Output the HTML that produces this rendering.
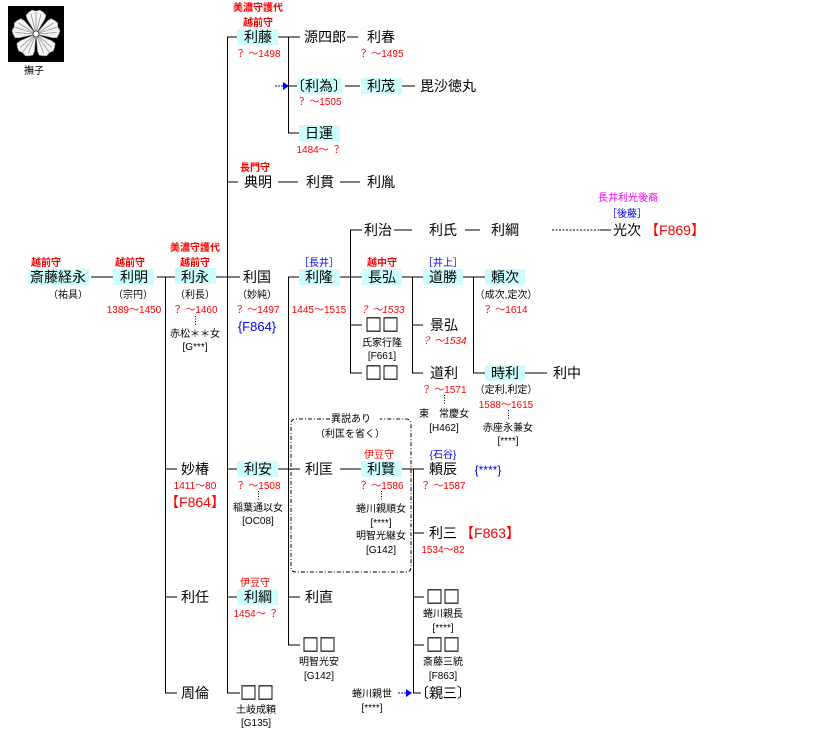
<!DOCTYPE html>
<html><head><meta charset="utf-8"><style>
html,body{margin:0;padding:0;background:#fff}
svg{display:block;font-family:"Liberation Sans","Noto Sans CJK JP",sans-serif}
.n{font-size:14px;fill:#000;text-anchor:middle}
.q{font-size:17px;fill:#000;text-anchor:middle;font-family:"Noto Sans CJK JP",sans-serif;stroke:#000;stroke-width:0.4}
.s{font-size:10px;fill:#000;text-anchor:middle}
.r{font-size:10px;fill:#f00;text-anchor:middle}
.rb{font-size:10px;fill:#f00;text-anchor:middle;font-weight:bold}
.b{font-size:10px;fill:#00f;text-anchor:middle}
.bb{font-size:14px;fill:#00f;text-anchor:middle}
.rr{font-size:14px;fill:#f00;text-anchor:middle}
.m{font-size:10px;fill:#f0f;text-anchor:middle}
</style></head><body>
<svg width="831" height="736" viewBox="0 0 831 736" xmlns="http://www.w3.org/2000/svg">
<rect x="8" y="6" width="56" height="56" fill="#000"/>
<g transform="translate(36,34)" fill="#f4f4f4" stroke="#777" stroke-width="0.6">
<g id="p"><path d="M0,0 L-9,-15 L-10,-19 L-7,-22 L-4,-24 L0,-23 L4,-24 L7,-22 L10,-19 L9,-15 Z"/><line x1="0" y1="0" x2="0" y2="-22"/><line x1="0" y1="0" x2="-5" y2="-20"/><line x1="0" y1="0" x2="5" y2="-20"/></g>
<use href="#p" transform="rotate(72)"/><use href="#p" transform="rotate(144)"/><use href="#p" transform="rotate(216)"/><use href="#p" transform="rotate(288)"/>
<circle r="3" fill="#fff" stroke="#000"/>
</g>
<text x="34" y="74" class="s">撫子</text>

<g stroke="#000" stroke-width="1" fill="none">
<line x1="157" y1="277" x2="175" y2="277"/>
<line x1="165.5" y1="277" x2="165.5" y2="693"/>
<line x1="165" y1="469" x2="177" y2="469"/>
<line x1="165" y1="597" x2="177" y2="597"/>
<line x1="165" y1="693" x2="177" y2="693"/>
<line x1="91" y1="277" x2="113" y2="277"/>
<line x1="216" y1="277" x2="240" y2="277"/>
<line x1="227.5" y1="37" x2="227.5" y2="693"/>
<line x1="227" y1="37" x2="237" y2="37"/>
<line x1="227" y1="182" x2="238" y2="182"/>
<line x1="227" y1="469" x2="237" y2="469"/>
<line x1="227" y1="597" x2="237" y2="597"/>
<line x1="227" y1="693" x2="240" y2="693"/>
<line x1="278" y1="37" x2="300" y2="37"/>
<line x1="288.5" y1="37" x2="288.5" y2="133"/>
<line x1="288" y1="86" x2="297" y2="86"/>
<line x1="288" y1="133" x2="299" y2="133"/>
<line x1="347" y1="37" x2="358" y2="37"/>
<line x1="345" y1="86" x2="360" y2="86"/>
<line x1="402" y1="86" x2="415" y2="86"/>
<line x1="278" y1="182" x2="298" y2="182"/>
<line x1="340" y1="182" x2="360" y2="182"/>
<line x1="288.5" y1="277" x2="288.5" y2="645"/>
<line x1="288" y1="277" x2="299" y2="277"/>
<line x1="278" y1="469" x2="300" y2="469"/>
<line x1="288" y1="597" x2="300" y2="597"/>
<line x1="288" y1="645" x2="300" y2="645"/>
<line x1="340" y1="277" x2="362" y2="277"/>
<line x1="350.5" y1="230" x2="350.5" y2="373"/>
<line x1="350" y1="230" x2="362" y2="230"/>
<line x1="350" y1="325" x2="362" y2="325"/>
<line x1="350" y1="373" x2="362" y2="373"/>
<line x1="394" y1="230" x2="412" y2="230"/>
<line x1="465" y1="230" x2="480" y2="230"/>
<line x1="552" y1="230" x2="600" y2="230" stroke-dasharray="2,1.5"/>
<line x1="600" y1="230" x2="611" y2="230"/>
<line x1="402" y1="277" x2="423" y2="277"/>
<line x1="412.5" y1="277" x2="412.5" y2="373"/>
<line x1="412" y1="325" x2="423" y2="325"/>
<line x1="412" y1="373" x2="423" y2="373"/>
<line x1="463" y1="277" x2="485" y2="277"/>
<line x1="473.5" y1="277" x2="473.5" y2="373"/>
<line x1="473" y1="373" x2="485" y2="373"/>
<line x1="525" y1="373" x2="547" y2="373"/>
<line x1="340" y1="469" x2="361" y2="469"/>
<line x1="402" y1="469" x2="424" y2="469"/>
<line x1="413.5" y1="469" x2="413.5" y2="693"/>
<line x1="413" y1="533" x2="424" y2="533"/>
<line x1="413" y1="597" x2="424" y2="597"/>
<line x1="413" y1="645" x2="424" y2="645"/>
<line x1="413" y1="693" x2="421" y2="693"/>
<path d="M330,419 H296 Q291,419 291,424 V567 Q291,572 296,572 H406 Q411,572 411,567 V424 Q411,419 406,419 H380" stroke-dasharray="4,2,1,2"/>
<line x1="195.5" y1="316" x2="195.5" y2="326" stroke-dasharray="1,1.5"/>
<line x1="258.5" y1="491" x2="258.5" y2="500" stroke-dasharray="1,1.5"/>
<line x1="381.5" y1="491" x2="381.5" y2="500" stroke-dasharray="1,1.5"/>
<line x1="444.5" y1="395" x2="444.5" y2="405" stroke-dasharray="1,1.5"/>
<line x1="508.5" y1="410" x2="508.5" y2="419" stroke-dasharray="1,1.5"/>
</g>
<line x1="275" y1="86" x2="283" y2="86" stroke="#00f" stroke-dasharray="2,1"/>
<polygon points="283,82 289,86 283,90" fill="#00f"/>
<line x1="398" y1="693" x2="406" y2="693" stroke="#00f" stroke-dasharray="2,1"/>
<polygon points="406,689 412,693 406,697" fill="#00f"/>

<g fill="#ccfeff">
<rect x="28" y="269" width="61" height="16"/>
<rect x="113" y="269" width="41" height="16"/>
<rect x="175" y="268" width="41" height="16"/>
<rect x="237" y="29" width="41" height="16"/>
<rect x="297" y="78" width="45" height="16"/>
<rect x="361" y="78" width="41" height="16"/>
<rect x="299" y="125" width="41" height="16"/>
<rect x="299" y="269" width="41" height="16"/>
<rect x="362" y="269" width="40" height="16"/>
<rect x="423" y="269" width="40" height="16"/>
<rect x="485" y="269" width="40" height="16"/>
<rect x="485" y="365" width="40" height="16"/>
<rect x="237" y="461" width="41" height="16"/>
<rect x="361" y="461" width="41" height="16"/>
<rect x="237" y="589" width="41" height="16"/>
</g>

<text x="258" y="11" class="rb">美濃守護代</text>
<text x="258" y="26" class="rb">越前守</text>
<text x="258" y="42" class="n">利藤</text>
<text x="258" y="57" class="r">？ ～1498</text>
<text x="325" y="42" class="n">源四郎</text>
<text x="381" y="42" class="n">利春</text>
<text x="381" y="57" class="r">？ ～1495</text>
<text x="319" y="91" class="n">〔利為〕</text>
<text x="319" y="105" class="r">？ ～1505</text>
<text x="381" y="91" class="n">利茂</text>
<text x="448" y="91" class="n">毘沙徳丸</text>
<text x="319" y="138" class="n">日運</text>
<text x="319" y="153" class="r">1484～ ？</text>
<text x="255" y="171" class="rb">長門守</text>
<text x="258" y="187" class="n">典明</text>
<text x="320" y="187" class="n">利貫</text>
<text x="381" y="187" class="n">利胤</text>

<text x="46" y="266" class="rb">越前守</text>
<text x="58" y="282" class="n">斎藤経永</text>
<text x="68" y="298" class="s">（祐具）</text>
<text x="130" y="266" class="rb">越前守</text>
<text x="134" y="282" class="n">利明</text>
<text x="133" y="298" class="s">（宗円）</text>
<text x="134" y="313" class="r">1389～1450</text>
<text x="195" y="251" class="rb">美濃守護代</text>
<text x="195" y="266" class="rb">越前守</text>
<text x="195" y="282" class="n">利永</text>
<text x="195" y="298" class="s">（利長）</text>
<text x="195" y="313" class="r">？ ～1460</text>
<text x="195" y="337" class="s">赤松＊＊女</text>
<text x="195" y="350" class="s">[G***]</text>
<text x="257" y="282" class="n">利国</text>
<text x="257" y="298" class="s">（妙純）</text>
<text x="257" y="313" class="r">？ ～1497</text>
<text x="257" y="331" class="bb" style="font-size:13px">{F864}</text>

<text x="319" y="266" class="b">［長井］</text>
<text x="319" y="282" class="n">利隆</text>
<text x="319" y="313" class="r">1445～1515</text>
<text x="378" y="235" class="n">利治</text>
<text x="443" y="235" class="n">利氏</text>
<text x="505" y="235" class="n">利綱</text>
<text x="628" y="201" class="m">長井利光後裔</text>
<text x="627" y="217" class="b">［後藤］</text>
<text x="627" y="235" class="n">光次</text>
<text x="675" y="235" class="rr">【F869】</text>
<text x="382" y="266" class="rb">越中守</text>
<text x="382" y="282" class="n">長弘</text>
<text x="382" y="313" class="r" font-style="italic">？ ～1533</text>
<text x="443" y="266" class="b">［井上］</text>
<text x="443" y="282" class="n">道勝</text>
<text x="505" y="282" class="n">頼次</text>
<text x="506" y="298" class="s">（成次,定次）</text>
<text x="505" y="313" class="r">？ ～1614</text>
<text x="382" y="331" class="q">□□</text>
<text x="382" y="346" class="s">氏家行隆</text>
<text x="382" y="359" class="s">[F661]</text>
<text x="382" y="379" class="q">□□</text>
<text x="444" y="330" class="n">景弘</text>
<text x="444" y="344" class="r" font-style="italic">？ ～1534</text>
<text x="444" y="378" class="n">道利</text>
<text x="444" y="393" class="r">？ ～1571</text>
<text x="444" y="417" class="s">東　常慶女</text>
<text x="444" y="431" class="s">[H462]</text>
<text x="505" y="378" class="n">時利</text>
<text x="567" y="378" class="n">利中</text>
<text x="506" y="393" class="s">（定利,利定）</text>
<text x="506" y="408" class="r">1588～1615</text>
<text x="508" y="431" class="s">赤座永兼女</text>
<text x="508" y="444" class="s">[****]</text>

<rect x="331" y="412" width="48" height="12" fill="#fff"/>
<text x="351" y="422" class="s">異説あり</text>
<text x="350" y="437" class="s">（利匡を省く）</text>

<text x="195" y="474" class="n">妙椿</text>
<text x="195" y="489" class="r">1411～80</text>
<text x="195" y="507" class="rr">【F864】</text>
<text x="258" y="474" class="n">利安</text>
<text x="258" y="489" class="r">？ ～1508</text>
<text x="258" y="511" class="s">稲葉通以女</text>
<text x="258" y="524" class="s">[OC08]</text>
<text x="319" y="474" class="n">利匡</text>
<text x="379" y="458" class="r">伊豆守</text>
<text x="381" y="474" class="n">利賢</text>
<text x="381" y="489" class="r">？ ～1586</text>
<text x="381" y="512" class="s">蜷川親順女</text>
<text x="381" y="526" class="s">[****]</text>
<text x="381" y="539" class="s">明智光継女</text>
<text x="381" y="553" class="s">[G142]</text>
<text x="443" y="458" class="b">{石谷}</text>
<text x="443" y="474" class="n">頼辰</text>
<text x="488" y="474" class="bb" style="font-size:12px">{****}</text>
<text x="443" y="489" class="r">？ ～1587</text>
<text x="443" y="538" class="n">利三</text>
<text x="490" y="538" class="rr">【F863】</text>
<text x="443" y="553" class="r">1534～82</text>

<text x="195" y="602" class="n">利任</text>
<text x="255" y="586" class="r">伊豆守</text>
<text x="258" y="602" class="n">利綱</text>
<text x="256" y="617" class="r">1454～ ？</text>
<text x="319" y="602" class="n">利直</text>
<text x="443" y="603" class="q">□□</text>
<text x="443" y="617" class="s">蜷川親長</text>
<text x="443" y="631" class="s">[****]</text>
<text x="319" y="651" class="q">□□</text>
<text x="319" y="665" class="s">明智光安</text>
<text x="319" y="679" class="s">[G142]</text>
<text x="443" y="651" class="q">□□</text>
<text x="443" y="665" class="s">斎藤三統</text>
<text x="443" y="679" class="s">[F863]</text>

<text x="195" y="698" class="n">周倫</text>
<text x="257" y="699" class="q">□□</text>
<text x="256" y="713" class="s">土岐成頼</text>
<text x="256" y="726" class="s">[G135]</text>
<text x="372" y="697" class="s">蜷川親世</text>
<text x="372" y="711" class="s">[****]</text>
<text x="443" y="698" class="n">〔親三〕</text>
</svg>
</body></html>
